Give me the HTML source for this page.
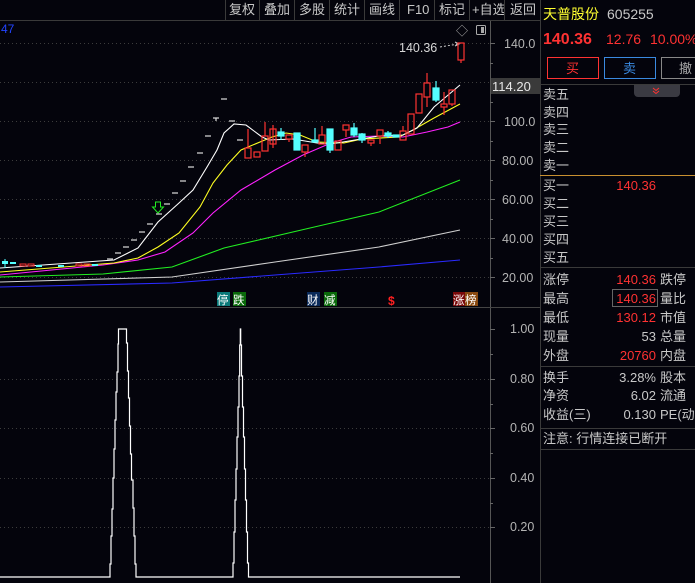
<!DOCTYPE html>
<html><head><meta charset="utf-8"><style>
html,body{margin:0;padding:0;background:#04040c;}
svg{display:block;}
text{font-family:"Liberation Sans","Noto Sans CJK SC",sans-serif;}
</style></head><body>
<svg width="695" height="583" viewBox="0 0 695 583" xmlns="http://www.w3.org/2000/svg">
<rect width="695" height="583" fill="#04040c"/>
<!-- toolbar -->
<g fill="#c8c8c8" font-size="13">
<text x="229" y="14">复权</text><text x="264" y="14">叠加</text><text x="299" y="14">多股</text><text x="334" y="14">统计</text><text x="369" y="14">画线</text><text x="407" y="14">F10</text><text x="439" y="14">标记</text><text x="472" y="14">+自选</text><text x="510" y="14">返回</text>
</g>
<g stroke="#3a3a3a" stroke-width="1">
<line x1="225.5" y1="0" x2="225.5" y2="20"/><line x1="259.5" y1="0" x2="259.5" y2="20"/><line x1="294.5" y1="0" x2="294.5" y2="20"/><line x1="329.5" y1="0" x2="329.5" y2="20"/><line x1="364.5" y1="0" x2="364.5" y2="20"/><line x1="399.5" y1="0" x2="399.5" y2="20"/><line x1="434.5" y1="0" x2="434.5" y2="20"/><line x1="469.5" y1="0" x2="469.5" y2="20"/><line x1="504.5" y1="0" x2="504.5" y2="20"/>
</g>
<line x1="0" y1="20.5" x2="540" y2="20.5" stroke="#3a3a3a"/>
<!-- frame lines -->
<line x1="490.5" y1="21" x2="490.5" y2="583" stroke="#555"/>
<line x1="540.5" y1="0" x2="540.5" y2="583" stroke="#3a3a3a"/>
<line x1="0" y1="307.5" x2="540" y2="307.5" stroke="#444"/>
<!-- grid -->
<g stroke="#3c3c3c" stroke-dasharray="1,3">
<line x1="0" y1="43.5" x2="490" y2="43.5"/><line x1="0" y1="82.5" x2="490" y2="82.5"/><line x1="0" y1="121.5" x2="490" y2="121.5"/><line x1="0" y1="160.5" x2="490" y2="160.5"/><line x1="0" y1="199.5" x2="490" y2="199.5"/><line x1="0" y1="238.5" x2="490" y2="238.5"/><line x1="0" y1="277.5" x2="490" y2="277.5"/>
<line x1="0" y1="379.5" x2="490" y2="379.5"/><line x1="0" y1="428.5" x2="490" y2="428.5"/><line x1="0" y1="478.5" x2="490" y2="478.5"/><line x1="0" y1="527.5" x2="490" y2="527.5"/>
</g>
<!-- axis ticks -->
<g stroke="#666">
<line x1="490" y1="43.5" x2="495" y2="43.5"/><line x1="490" y1="63.5" x2="493" y2="63.5"/><line x1="490" y1="102.5" x2="493" y2="102.5"/><line x1="490" y1="121.5" x2="495" y2="121.5"/><line x1="490" y1="141.5" x2="493" y2="141.5"/><line x1="490" y1="160.5" x2="495" y2="160.5"/><line x1="490" y1="180.5" x2="493" y2="180.5"/><line x1="490" y1="199.5" x2="495" y2="199.5"/><line x1="490" y1="219.5" x2="493" y2="219.5"/><line x1="490" y1="238.5" x2="495" y2="238.5"/><line x1="490" y1="258.5" x2="493" y2="258.5"/><line x1="490" y1="277.5" x2="495" y2="277.5"/>
<line x1="490" y1="329.5" x2="495" y2="329.5"/><line x1="490" y1="354.5" x2="493" y2="354.5"/><line x1="490" y1="379.5" x2="495" y2="379.5"/><line x1="490" y1="404.5" x2="493" y2="404.5"/><line x1="490" y1="428.5" x2="495" y2="428.5"/><line x1="490" y1="453.5" x2="493" y2="453.5"/><line x1="490" y1="478.5" x2="495" y2="478.5"/><line x1="490" y1="503.5" x2="493" y2="503.5"/><line x1="490" y1="527.5" x2="495" y2="527.5"/>
</g>
<g fill="#b4b4b4" font-size="12.5">
<text x="504" y="48">140.0</text><text x="504" y="126">100.0</text><text x="502" y="165">80.00</text><text x="502" y="204">60.00</text><text x="502" y="243">40.00</text><text x="502" y="282">20.00</text>
<text x="510" y="333">1.00</text><text x="510" y="383">0.80</text><text x="510" y="432">0.60</text><text x="510" y="482">0.40</text><text x="510" y="531">0.20</text>
</g>
<rect x="491" y="78" width="49" height="16" fill="#3a3a3a"/>
<text x="492" y="91" fill="#e8e8e8" font-size="13">114.20</text>
<text x="1" y="33" fill="#2244ff" font-size="12">47</text>
<text x="456" y="35" fill="#aaa" font-size="12">◇</text>
<rect x="476.5" y="25.5" width="9" height="9" fill="none" stroke="#aaa" rx="1"/><rect x="481" y="27" width="3" height="6" fill="#aaa"/>
<text x="399" y="52" fill="#d8d8d8" font-size="12.5">140.36</text>
<path d="M440 47 L458 44" stroke="#ccc" stroke-dasharray="2,2"/><path d="M455 42 L459 44 L455 46" stroke="#ccc" fill="none"/>
<!-- MAs -->
<g fill="none" stroke-width="1.1">
<polyline stroke="#2a2aff" points="0,287 172,283 275,275 379,267 460,260"/>
<polyline stroke="#d0d0d0" points="0,282 172,277 275,262 379,247 460,230"/>
<polyline stroke="#22ee22" points="0,277 103,274 172,267 224,248 310,228 379,212 460,180"/>
<polyline stroke="#ff22ff" points="0,275 103,265 138,260 165,252 193,233 213,213 241,190 275,170 303,155 331,143 351,137 379,136 403,137 427,132 448,127 460,122"/>
<polyline stroke="#ffff22" points="0,272 114,263 138,258 158,247 179,233 200,207 213,183 227,165 241,150 248,147 272,137 286,133 300,135 317,142 344,143 362,139 399,137 413,130 434,118 460,104"/>
<polyline stroke="#ffffff" points="0,268 114,260 138,248 158,222 179,203 193,190 207,167 217,150 224,133 234,124 246,125 262,137 269,140 293,139 317,143 331,144 379,136 403,135 417,128 434,107 460,85"/>
</g>
<!-- early small candles -->
<g>
<rect x="2" y="261" width="6" height="3" fill="#54ffff"/><line x1="5" y1="259" x2="5" y2="268" stroke="#54ffff"/>
<rect x="10" y="262" width="6" height="2" fill="#54ffff"/>
<rect x="20" y="264" width="6" height="2" fill="none" stroke="#ff3232"/><rect x="28" y="264" width="6" height="2" fill="none" stroke="#ff3232"/>
<rect x="36" y="265" width="6" height="2" fill="#54ffff"/><rect x="58" y="265" width="6" height="2" fill="#54ffff"/><rect x="76" y="264" width="6" height="2" fill="none" stroke="#ff3232"/><rect x="84" y="264" width="6" height="2" fill="none" stroke="#ff3232"/><rect x="92" y="264" width="6" height="2" fill="#54ffff"/>
</g>
<!-- one-price dashes -->
<g stroke="#dddddd" stroke-width="1.2">
<line x1="107" y1="259" x2="113" y2="259"/><line x1="115" y1="253" x2="121" y2="253"/><line x1="123" y1="247" x2="129" y2="247"/><line x1="131" y1="240" x2="137" y2="240"/><line x1="139" y1="232" x2="145" y2="232"/><line x1="147" y1="224" x2="153" y2="224"/><line x1="156" y1="214" x2="162" y2="214"/><line x1="164" y1="204" x2="170" y2="204"/><line x1="172" y1="193" x2="178" y2="193"/><line x1="180" y1="181" x2="186" y2="181"/><line x1="188" y1="167" x2="194" y2="167"/><line x1="197" y1="153" x2="203" y2="153"/><line x1="205" y1="136" x2="211" y2="136"/><line x1="213" y1="118" x2="219" y2="118"/><line x1="216" y1="118" x2="216" y2="121"/><line x1="221" y1="99" x2="227" y2="99"/><line x1="229" y1="121" x2="235" y2="121"/><line x1="237" y1="140" x2="243" y2="140"/>
</g>
<path d="M155.5 202 h5 v5 h3 l-5.5 6 l-5.5 -6 h3 z" fill="none" stroke="#22ee22"/>
<!-- candles -->
<g stroke-width="1.2">
<g stroke="#ff3232" fill="none">
<line x1="248" y1="129" x2="248" y2="148"/><rect x="245" y="148" width="6" height="10"/>
<rect x="254" y="152" width="6" height="5"/>
<line x1="265" y1="122" x2="265" y2="136"/><rect x="262" y="136" width="6" height="15"/>
<line x1="273" y1="125" x2="273" y2="148"/><rect x="270" y="129" width="6" height="15"/>
<line x1="289" y1="139" x2="289" y2="142"/><rect x="286" y="135" width="6" height="4"/>
<line x1="305" y1="152" x2="305" y2="157"/><rect x="302" y="145" width="6" height="7"/>
<line x1="322" y1="126" x2="322" y2="135"/><rect x="319" y="135" width="6" height="9"/>
<rect x="335" y="141" width="6" height="9"/>
<line x1="346" y1="130" x2="346" y2="137"/><rect x="343" y="125" width="6" height="5"/>
<line x1="371" y1="143" x2="371" y2="146"/><rect x="368" y="140" width="6" height="3"/>
<line x1="380" y1="136" x2="380" y2="144"/><rect x="377" y="130" width="6" height="6"/>
<line x1="403" y1="126" x2="403" y2="131"/><rect x="400" y="131" width="6" height="9"/>
<rect x="408" y="114" width="6" height="20"/>
<rect x="416" y="94" width="6" height="19"/>
<line x1="427" y1="73" x2="427" y2="83"/><line x1="427" y1="97" x2="427" y2="107"/><rect x="424" y="83" width="6" height="14"/>
<line x1="444" y1="92" x2="444" y2="115"/><rect x="441" y="104" width="6" height="3" fill="#04040c"/>
<line x1="452" y1="104" x2="452" y2="106"/><rect x="449" y="90" width="6" height="14"/>
<line x1="461" y1="60" x2="461" y2="63"/><rect x="458" y="43" width="6" height="17"/>
</g>
<g stroke="#54ffff" fill="#54ffff">
<line x1="281" y1="128" x2="281" y2="140"/><rect x="278" y="132" width="6" height="4"/>
<rect x="294" y="133" width="6" height="17"/>
<line x1="315" y1="128" x2="315" y2="142"/><rect x="312" y="140" width="6" height="2"/>
<line x1="330" y1="129" x2="330" y2="153"/><rect x="327" y="129" width="6" height="21"/>
<line x1="354" y1="123" x2="354" y2="137"/><rect x="351" y="128" width="6" height="7"/>
<line x1="362" y1="133" x2="362" y2="143"/><rect x="359" y="134" width="6" height="6"/>
<line x1="388" y1="131" x2="388" y2="138"/><rect x="385" y="133" width="6" height="3"/>
<rect x="393" y="135" width="6" height="2"/>
<line x1="436" y1="81" x2="436" y2="102"/><rect x="433" y="88" width="6" height="12"/>
</g>
</g>
<!-- markers -->
<g font-size="11.5">
<rect x="217" y="292" width="13" height="14" fill="#0a7a7a"/><text x="217" y="304" fill="#fff">停</text>
<rect x="233" y="292" width="13" height="14" fill="#0a6a0a"/><text x="233" y="304" fill="#fff">跌</text>
<rect x="307" y="292" width="13" height="14" fill="#0a2a5a"/><text x="307" y="304" fill="#fff">财</text>
<rect x="324" y="292" width="13" height="14" fill="#0a6a0a"/><text x="324" y="304" fill="#fff">减</text>
<text x="388" y="305" fill="#ff2020" font-weight="bold" font-size="12">$</text>
<rect x="453" y="292" width="12" height="14" fill="#7a0a0a"/><text x="453" y="304" fill="#fff">涨</text>
<rect x="465" y="292" width="13" height="14" fill="#8a4a10"/><text x="465" y="304" fill="#fff">榜</text>
</g>
<!-- lower indicator -->
<polyline fill="none" stroke="#ffffff" stroke-width="1.2" points="0,577 110,577 110,564 111,564 111,536 112,536 112,509 113,509 113,478 114,478 114,449 115,449 115,420 116,420 116,392 117,392 117,372 118,372 118,344 118.5,344 118.5,329 126.5,329 126.5,343 127.5,343 127.5,371 128.5,371 128.5,398 129.5,398 129.5,426 130.5,426 130.5,454 131.5,454 131.5,480 133,480 133,508 134,508 134,536 135,536 135,564 136,564 136,577 233,577 233,563 234,563 234,532 235,532 235,500 236,500 236,469 237,469 237,437 238,437 238,407 239,407 239,376 239.7,376 239.7,345 240.3,345 240.3,329 240.7,329 240.7,345 241.5,345 241.5,376 242.5,376 242.5,407 243.5,407 243.5,437 244.5,437 244.5,469 245.5,469 245.5,500 246.5,500 246.5,532 247.5,532 247.5,563 248.5,563 248.5,577 460,577"/>
<!-- right panel -->
<text x="543" y="19" fill="#ffff30" font-size="14">天普股份</text>
<text x="607" y="19" fill="#c8c8c8" font-size="14">605255</text>
<text x="543" y="44" fill="#ff3232" font-size="16" font-weight="bold">140.36</text>
<text x="606" y="44" fill="#ff3232" font-size="14">12.76</text>
<text x="650" y="44" fill="#ff3232" font-size="14">10.00%</text>
<rect x="547.5" y="57.5" width="51" height="21" fill="none" stroke="#ff3232"/><text x="566" y="73" fill="#ff3232" font-size="13">买</text>
<rect x="604.5" y="57.5" width="51" height="21" fill="none" stroke="#3a8ae0"/><text x="623" y="73" fill="#3a8ae0" font-size="13">卖</text>
<rect x="661.5" y="57.5" width="40" height="21" fill="none" stroke="#888"/><text x="679" y="73" fill="#aaa" font-size="13">撤</text>
<line x1="540" y1="84.5" x2="695" y2="84.5" stroke="#3a3a3a"/>
<path d="M634 85 h46 v8 a4 4 0 0 1 -4 4 h-38 a4 4 0 0 1 -4 -4 z" fill="#3a3a42"/>
<path d="M653 88 l3 2.5 l3 -2.5 M653 91 l3 2.5 l3 -2.5" stroke="#ff3232" fill="none"/>
<g fill="#c8c8c8" font-size="13">
<text x="543" y="99">卖五</text><text x="543" y="117">卖四</text><text x="543" y="134">卖三</text><text x="543" y="152">卖二</text><text x="543" y="170">卖一</text>
<text x="543" y="190">买一</text><text x="543" y="208">买二</text><text x="543" y="226">买三</text><text x="543" y="244">买四</text><text x="543" y="262">买五</text>
<text x="543" y="284">涨停</text><text x="543" y="303">最高</text><text x="543" y="322">最低</text><text x="543" y="341">现量</text><text x="543" y="360">外盘</text>
<text x="543" y="382">换手</text><text x="543" y="400">净资</text><text x="543" y="419">收益(三)</text>
<text x="660" y="284">跌停</text><text x="660" y="303">量比</text><text x="660" y="322">市值</text><text x="660" y="341">总量</text><text x="660" y="360">内盘</text>
<text x="660" y="382">股本</text><text x="660" y="400">流通</text><text x="660" y="419">PE(动</text>
<text x="543" y="443">注意: 行情连接已断开</text>
</g>
<line x1="540" y1="175.5" x2="695" y2="175.5" stroke="#c89030"/>
<line x1="540" y1="267.5" x2="695" y2="267.5" stroke="#3a3a3a"/>
<line x1="540" y1="366.5" x2="695" y2="366.5" stroke="#3a3a3a"/>
<line x1="540" y1="428.5" x2="695" y2="428.5" stroke="#3a3a3a"/>
<line x1="540" y1="449.5" x2="695" y2="449.5" stroke="#3a3a3a"/>
<rect x="612.5" y="289.5" width="45" height="17" fill="none" stroke="#666"/>
<g font-size="13" text-anchor="end">
<text x="656" y="190" fill="#ff3232">140.36</text>
<text x="656" y="284" fill="#ff3232">140.36</text>
<text x="656" y="303" fill="#ff3232">140.36</text>
<text x="656" y="322" fill="#ff3232">130.12</text>
<text x="656" y="341" fill="#c8c8c8">53</text>
<text x="656" y="360" fill="#ff3232">20760</text>
<text x="656" y="382" fill="#c8c8c8">3.28%</text>
<text x="656" y="400" fill="#c8c8c8">6.02</text>
<text x="656" y="419" fill="#c8c8c8">0.130</text>
</g>
</svg>
</body></html>
